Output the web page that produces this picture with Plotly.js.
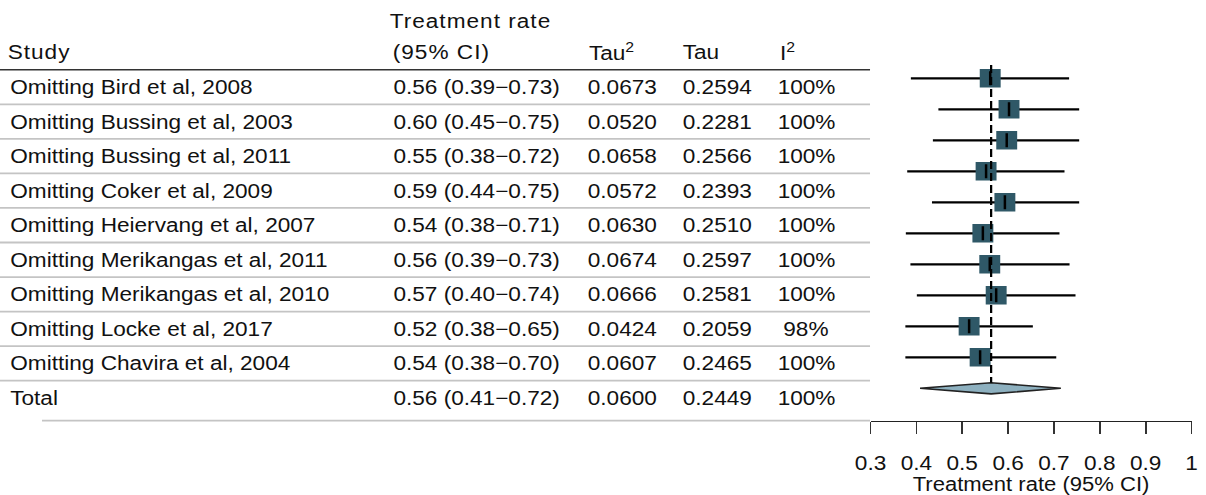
<!DOCTYPE html>
<html>
<head>
<meta charset="utf-8">
<script src="https://cdn.plot.ly/plotly-3.0.1.min.js"></script>
<style>
  html, body { margin: 0; padding: 0; background: #fff; overflow: hidden; }
  #plot { width: 1067px; height: 495px; transform: scaleX(1.1303); transform-origin: 0 0; }
  .annotation[data-index="0"] text, .annotation[data-index="1"] text, .annotation[data-index="2"] text { letter-spacing: 0.9px; }
</style>
</head>
<body>
<div id="plot"></div>
<script>
// ---- Table data ----
const studies = [
  "Omitting Bird et al, 2008",
  "Omitting Bussing et al, 2003",
  "Omitting Bussing et al, 2011",
  "Omitting Coker et al, 2009",
  "Omitting Heiervang et al, 2007",
  "Omitting Merikangas et al, 2011",
  "Omitting Merikangas et al, 2010",
  "Omitting Locke et al, 2017",
  "Omitting Chavira et al, 2004"
];
const ciText = [
  "0.56 (0.39\u22120.73)", "0.60 (0.45\u22120.75)", "0.55 (0.38\u22120.72)",
  "0.59 (0.44\u22120.75)", "0.54 (0.38\u22120.71)", "0.56 (0.39\u22120.73)",
  "0.57 (0.40\u22120.74)", "0.52 (0.38\u22120.65)", "0.54 (0.38\u22120.70)"
];
const tau2Text = ["0.0673", "0.0520", "0.0658", "0.0572", "0.0630", "0.0674", "0.0666", "0.0424", "0.0607"];
const tauText  = ["0.2594", "0.2281", "0.2566", "0.2393", "0.2510", "0.2597", "0.2581", "0.2059", "0.2465"];
const i2Text   = ["100%", "100%", "100%", "100%", "100%", "100%", "100%", "98%", "100%"];
const totalLabel = "Total";
const totalCI = "0.56 (0.41\u22120.72)";
const totalTau2 = "0.0600";
const totalTau = "0.2449";
const totalI2 = "100%";

// ---- Forest plot data (as drawn) ----
const forestEst = [0.561, 0.602, 0.597, 0.552, 0.593, 0.545, 0.560, 0.574, 0.515, 0.539];
const forestLo  = [0.388, 0.448, 0.436, 0.380, 0.434, 0.377, 0.387, 0.401, 0.376, 0.376];
const forestHi  = [0.733, 0.755, 0.755, 0.723, 0.755, 0.712, 0.734, 0.747, 0.654, 0.705];
const summaryEst = 0.563;
const summaryLo = 0.408;
const summaryHi = 0.715;
const tickVals = [0.3, 0.4, 0.5, 0.6, 0.7, 0.8, 0.9, 1];
const axisTitle = "Treatment rate (95% CI)";

// ---- Build traces ----
const rows = forestEst.map((_, i) => i);
const sumRow = forestEst.length;
const dh = 0.18; // diamond half-height (row units)

const ciX = [], ciY = [];
forestEst.forEach((_, i) => { ciX.push(forestLo[i], forestHi[i], null); ciY.push(i, i, null); });

const traces = [
  { type: 'scatter', mode: 'lines', x: ciX, y: ciY, line: { color: '#000', width: 2.2 }, hoverinfo: 'skip', showlegend: false },
  { type: 'scatter', mode: 'markers', x: forestEst, y: rows,
    marker: { symbol: 'square', size: 18.5, color: '#2f5867', line: { width: 0 } }, showlegend: false },
  { type: 'scatter', mode: 'markers', x: forestEst, y: rows,
    marker: { symbol: 'line-ns', size: 10, line: { width: 2.2, color: '#000' } }, showlegend: false },
  { type: 'scatter', mode: 'lines',
    x: [summaryLo, summaryEst, summaryHi, summaryEst, summaryLo],
    y: [sumRow, sumRow - dh, sumRow, sumRow + dh, sumRow],
    fill: 'toself', fillcolor: '#8db0bf', line: { color: '#222', width: 1.6 }, showlegend: false }
];

// ---- Table annotations ----
const F = { family: 'Liberation Sans, Arial, sans-serif', size: 20, color: '#111' };
const xStudy = 8 / 1206, xCI = 476.5 / 1206, xTau2 = 622 / 1206, xTau = 717 / 1206, xI2 = 806 / 1206;
const ann = [];
function A(text, x, y, xanchor) {
  ann.push({ text: text, x: x, y: y, xref: 'paper', yref: 'y2', xanchor: xanchor, yanchor: 'middle',
             showarrow: false, font: F });
}
// headers (first three letter-spaced via CSS)
A("Study", xStudy, -1.0, 'left');
A("Treatment rate", 395 / 1206, -1.9, 'left');
A("(95% CI)", 395 / 1206, -1.0, 'left');
A("Tau<sup>2</sup>", 587 / 1206, -1.04, 'left');
A("Tau", 680 / 1206, -1.0, 'left');
A("I<sup>2</sup>", 778 / 1206, -1.04, 'left');

studies.forEach((s, i) => {
  A(s, xStudy, i, 'left');
  A(ciText[i], xCI, i, 'center');
  A(tau2Text[i], xTau2, i, 'center');
  A(tauText[i], xTau, i, 'center');
  A(i2Text[i], xI2, i, 'center');
});
const tr = studies.length;
A(totalLabel, xStudy, tr, 'left');
A(totalCI, xCI, tr, 'center');
A(totalTau2, xTau2, tr, 'center');
A(totalTau, xTau, tr, 'center');
A(totalI2, xI2, tr, 'center');

// ---- Shapes ----
const lineEnd = 870 / 1206;
const domBottom = (495 - 420.7) / 495;
const shapes = [];
shapes.push({ type: 'line', xref: 'paper', yref: 'y2', x0: 0, x1: lineEnd, y0: -0.5, y1: -0.5,
              line: { color: '#333', width: 1.6 } });
for (let i = 0; i < studies.length; i++) {
  shapes.push({ type: 'line', xref: 'paper', yref: 'y2', x0: 0, x1: lineEnd, y0: i + 0.5, y1: i + 0.5,
                line: { color: '#c4c4c4', width: 1.8 } });
}
shapes.push({ type: 'line', xref: 'paper', yref: 'paper', x0: 42 / 1206, x1: lineEnd, y0: domBottom, y1: domBottom,
              line: { color: '#c4c4c4', width: 1.8 } });
shapes.push({ type: 'line', xref: 'x', yref: 'y', x0: summaryEst, x1: summaryEst, y0: -0.43, y1: sumRow - dh,
              line: { color: '#000', width: 2, dash: '8px,4px' } });

const layout = {
  width: 1067, height: 495,
  margin: { l: 0, r: 0, t: 0, b: 0 },
  paper_bgcolor: '#fff', plot_bgcolor: 'rgba(0,0,0,0)',
  showlegend: false,
  font: { family: 'Liberation Sans, Arial, sans-serif', size: 20, color: '#111' },
  xaxis: {
    domain: [870.5 / 1206, 1191.5 / 1206], range: [0.3, 1], anchor: 'y',
    tickvals: tickVals, ticks: 'outside', ticklen: 12, tickwidth: 1.5, tickcolor: '#333',
    ticklabelstandoff: 12,
    showline: true, linecolor: '#222', linewidth: 1.5, showgrid: false, zeroline: false,
    tickfont: { size: 20, color: '#111' },
    title: { text: axisTitle, font: { size: 19.5, color: '#111' }, standoff: 0 }
  },
  yaxis: { domain: [domBottom, 1], range: [11.045, -2.526], visible: false, fixedrange: true },
  yaxis2: { domain: [domBottom, 1], range: [9.658, -2.518], overlaying: 'y', visible: false, fixedrange: true },
  annotations: ann,
  shapes: shapes
};

Plotly.newPlot('plot', traces, layout, { displayModeBar: false, staticPlot: true });
</script>
</body>
</html>
